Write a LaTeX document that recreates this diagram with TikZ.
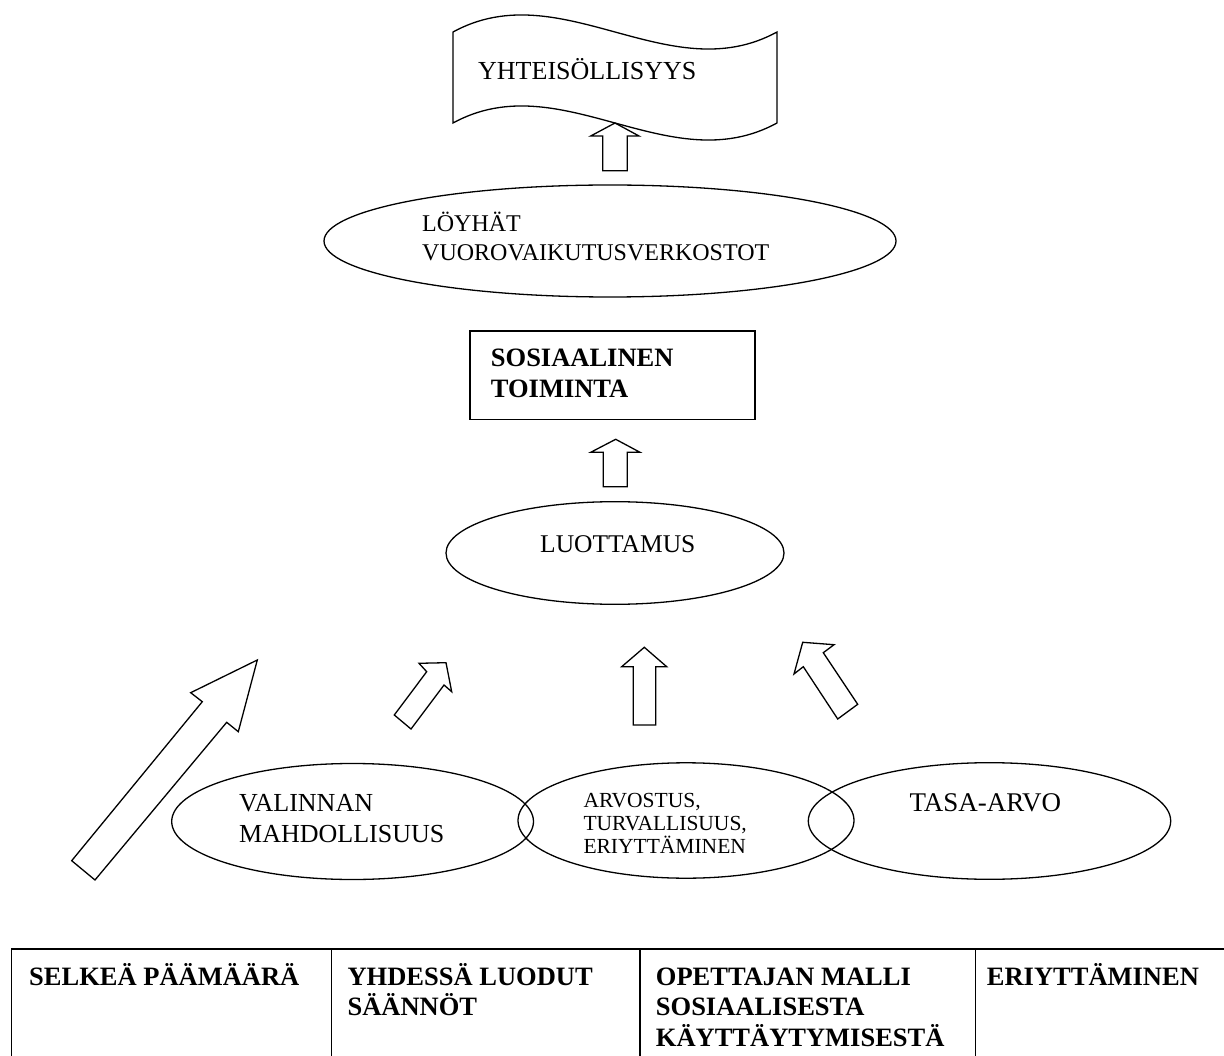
\documentclass[tikz,border=0pt]{standalone}
\usepackage{fontspec}
\setmainfont{Liberation Serif}
\usetikzlibrary{shapes.geometric}
\begin{document}
\begin{tikzpicture}[x=1pt,y=-1pt,
  outl/.style={draw=black,line width=1.3pt,line join=miter},
  oval/.style={ellipse,draw=black,line width=1.3pt,inner sep=0pt},
  txt/.style={inner sep=0pt,anchor=base west,font=\fontsize{26}{30.6}\selectfont},
  txtb/.style={inner sep=0pt,anchor=base west,font=\fontsize{26.5}{30.6}\selectfont\bfseries},
  txts/.style={inner sep=0pt,anchor=base west,font=\fontsize{21.5}{23.3}\selectfont},
  tabt/.style={inner sep=0pt,anchor=base west,font=\fontsize{26.5}{30.8}\selectfont\bfseries},
  tline/.style={draw=black,line width=1.5pt}]
\useasboundingbox (0,0) rectangle (1224,1056);
% banner
\draw[outl] (453,32) .. controls (561,-27) and (669,91) .. (777,32)
  -- (777,123) .. controls (669,182) and (561,64) .. (453,123) -- cycle;
\node[txt] (ban) at (478,80) {YHTEISÖLLISYYS};
% arrow under banner
\draw[outl] (615,123) -- (639,136) -- (627.3,136) -- (627.3,170.7) -- (602.7,170.7) -- (602.7,136) -- (590.7,136) -- cycle;
% LOYHAT ellipse
\node[oval,minimum width=572pt,minimum height=112pt] (loy) at (610,241) {};
\node[txt,font=\fontsize{24}{28.4}\selectfont] (loyt) at (422,231.7) {\vtop{\hbox{LÖYHÄT}\hbox{VUOROVAIKUTUSVERKOSTOT}}};
% rectangle
\node[draw=black,line width=1.3pt,minimum width=285pt,minimum height=88.3pt,inner sep=0pt] (box) at (612.5,375.2) {};
\node[txtb] (boxt) at (490.7,366.7) {\vtop{\hbox{SOSIAALINEN}\hbox{TOIMINTA}}};
% arrow under rectangle
\draw[outl] (615.7,439.3) -- (640,452.3) -- (627.3,452.3) -- (627.3,486.7) -- (603.3,486.7) -- (603.3,452.3) -- (590.7,452.3) -- cycle;
% LUOTTAMUS
\node[oval,minimum width=338pt,minimum height=102.6pt] (luo) at (615,553) {};
\node[txt,font=\fontsize{25.5}{30}\selectfont] (luot) at (540,552) {LUOTTAMUS};
% arrows
\draw[outl] (71.7,860.7) -- (202.3,701.7) -- (190.7,692.7) -- (257.3,660) -- (238.3,731.7) -- (226.7,722.3) -- (95,880) -- cycle;
\draw[outl] (394.3,715) -- (426.7,671.7) -- (419,663.3) -- (446,662.7) -- (451.7,691.7) -- (444,685) -- (411,729) -- cycle;
\draw[outl] (644.3,647.3) -- (666.7,666.7) -- (655.7,666.7) -- (655.7,725) -- (633.3,725) -- (633.3,666.7) -- (621.7,666.7) -- cycle;
\draw[outl] (802.7,642.3) -- (834,644.7) -- (823.3,652.7) -- (857.7,704.3) -- (837.7,719) -- (803.3,666.7) -- (794,674) -- cycle;
% bottom ellipses
\node[oval,minimum width=361.8pt,minimum height=116pt] (val) at (352.6,821.5) {};
\node[txt] (valt) at (239,811.7) {\vtop{\hbox{VALINNAN}\hbox{MAHDOLLISUUS}}};
\node[oval,minimum width=336pt,minimum height=115.4pt] (arv) at (686,820.5) {};
\node[txts] (arvt) at (583.3,807) {\vtop{\hbox{ARVOSTUS,}\hbox{TURVALLISUUS,}\hbox{ERIYTTÄMINEN}}};
\node[oval,minimum width=362.4pt,minimum height=116.6pt] (tas) at (989.5,821) {};
\node[txt,font=\fontsize{27}{30}\selectfont] (tast) at (909.3,811.7) {TASA-ARVO};
% table
\draw[tline] (11.7,1060) -- (11.7,949) -- (1230,949);
\draw[tline] (331.7,949) -- (331.7,1060);
\draw[tline] (640,949) -- (640,1060);
\draw[tline] (975.7,949) -- (975.7,1060);
\node[tabt] (c1) at (29,985) {SELKEÄ PÄÄMÄÄRÄ};
\node[tabt] (c2) at (347.4,985) {\vtop{\hbox{YHDESSÄ LUODUT}\hbox{SÄÄNNÖT}}};
\node[tabt] (c3) at (655.7,985) {\vtop{\hbox{OPETTAJAN MALLI}\hbox{SOSIAALISESTA}\hbox{KÄYTTÄYTYMISESTÄ}}};
\node[tabt] (c4) at (986.7,985) {ERIYTTÄMINEN};
\end{tikzpicture}
\end{document}
